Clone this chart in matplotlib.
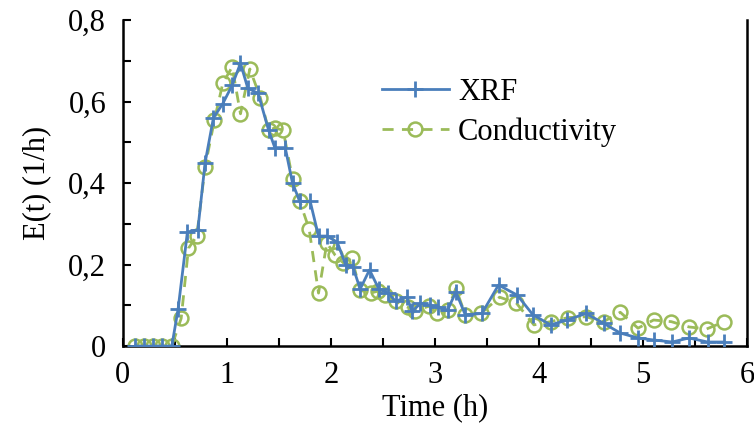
import numpy as np
import matplotlib
matplotlib.use('Agg')
import matplotlib.pyplot as plt
from matplotlib.ticker import MultipleLocator, FuncFormatter

plt.rcParams.update({'font.family': 'Liberation Serif', 'font.size': 22})

# XRF data
t_xrf = [0.12, 0.2, 0.29, 0.38, 0.47, 0.53, 0.62, 0.72, 0.79, 0.87, 0.96, 1.05, 1.13,
         1.2, 1.3, 1.4, 1.46, 1.56, 1.63, 1.70, 1.80, 1.88, 1.96, 2.06, 2.14, 2.21,
         2.28, 2.37, 2.46, 2.55, 2.62, 2.73, 2.78, 2.86, 2.95, 3.03, 3.12, 3.2, 3.29,
         3.45, 3.61, 3.79, 3.94, 4.11, 4.27, 4.45, 4.62, 4.78, 4.95, 5.1, 5.28, 5.44,
         5.62, 5.78]
e_xrf = [0, 0, 0, 0, 0, 0.09, 0.28, 0.285, 0.45, 0.56, 0.595, 0.64, 0.694,
         0.633, 0.62, 0.53, 0.487, 0.487, 0.40, 0.355, 0.355, 0.27, 0.27, 0.255, 0.2, 0.195,
         0.14, 0.187, 0.14, 0.13, 0.11, 0.12, 0.085, 0.105, 0.10, 0.095, 0.088, 0.133, 0.077,
         0.08, 0.15, 0.125, 0.077, 0.052, 0.064, 0.08, 0.056, 0.032, 0.02, 0.015, 0.01, 0.02,
         0.01, 0.01]

# Conductivity data
t_cond = [0.12, 0.2, 0.29, 0.38, 0.47, 0.56, 0.63, 0.71, 0.79, 0.88, 0.96, 1.05, 1.13,
          1.22, 1.32, 1.40, 1.46, 1.54, 1.63, 1.70, 1.79, 1.88, 1.96, 2.04, 2.12, 2.20,
          2.28, 2.38, 2.45, 2.52, 2.62, 2.74, 2.81, 2.94, 3.02, 3.12, 3.2, 3.29, 3.44,
          3.62, 3.78, 3.95, 4.11, 4.28, 4.45, 4.62, 4.78, 4.95, 5.1, 5.27, 5.44, 5.61, 5.78]
e_cond = [0, 0, 0, 0, 0, 0.068, 0.24, 0.27, 0.44, 0.555, 0.645, 0.685, 0.57,
          0.68, 0.61, 0.53, 0.535, 0.53, 0.41, 0.355, 0.287, 0.13, 0.253, 0.223, 0.204, 0.216,
          0.137, 0.13, 0.135, 0.125, 0.11, 0.095, 0.086, 0.098, 0.08, 0.088, 0.142, 0.077, 0.08,
          0.12, 0.106, 0.052, 0.06, 0.07, 0.072, 0.06, 0.083, 0.044, 0.064, 0.06, 0.047, 0.042, 0.06]

fig = plt.figure(figsize=(7.54, 4.46), dpi=100)
ax = fig.add_axes([0.163, 0.224, 0.828, 0.731])

ax.plot(t_xrf, e_xrf, color='#4A7EBB', linewidth=2, marker='+', markersize=12,
        markeredgewidth=2, label='XRF', zorder=3)
ax.plot(t_cond, e_cond, color='#9BBB59', linewidth=2, linestyle=(0, (4, 3)), marker='o',
        markersize=10, markerfacecolor='none', markeredgewidth=1.8,
        label='Conductivity', zorder=2)

ax.set_xlim(0, 6)
ax.set_ylim(0, 0.8)
ax.xaxis.set_major_locator(MultipleLocator(1))
ax.xaxis.set_minor_locator(MultipleLocator(0.5))
ax.yaxis.set_major_locator(MultipleLocator(0.2))
ax.yaxis.set_minor_locator(MultipleLocator(0.1))
ax.yaxis.set_major_formatter(FuncFormatter(lambda v, p: '0' if v == 0 else f'{v:.1f}'.replace('.', ',')))
ax.tick_params(which='both', direction='in', length=6, width=1.5)
ax.tick_params(axis='x', pad=11)
ax.tick_params(axis='y', pad=12)

for s in ['left', 'bottom', 'right']:
    ax.spines[s].set_linewidth(1.8)
ax.spines['top'].set_visible(False)

ax.set_xlabel('Time (h)', labelpad=2)
ax.set_ylabel('E(t) (1/h)', labelpad=12)

ax.legend(loc='upper left', bbox_to_anchor=(0.39, 0.87), frameon=False, borderpad=0,
          handlelength=2.2, handletextpad=0.3, labelspacing=0.35)

fig.savefig('out.png', dpi=100)
